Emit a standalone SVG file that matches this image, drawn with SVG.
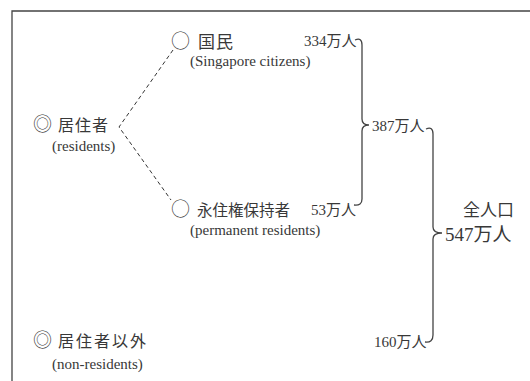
<svg xmlns="http://www.w3.org/2000/svg" width="530" height="381" viewBox="0 0 530 381">
<style>
.t{font-family:"Liberation Serif","Noto Sans CJK JP",serif;fill:#383838}
.s{font-family:"Noto Sans CJK JP",sans-serif;font-weight:300;font-size:19px;fill:#383838}
.jp{font-size:16px;letter-spacing:1px}
.en{font-size:15px}
.num{font-size:15px}
.big{font-size:19px}
.ln{fill:none;stroke:#444;stroke-width:1.3}
.dash{fill:none;stroke:#333;stroke-width:1;stroke-dasharray:4 3}
</style>
<rect width="530" height="381" fill="#fff"/>
<path class="ln" d="M12,381 V11 H530"/>
<g id="residents">
<text class="s" x="33" y="131">◎</text>
<text class="t jp" x="58" y="131">居住者</text>
<text class="t en" x="52" y="151">(residents)</text>
</g>
<g id="citizens">
<text class="s" x="171" y="48">○</text>
<text class="t jp" x="198" y="48" style="font-size:17px">国民</text>
<text class="t en" x="190" y="66">(Singapore citizens)</text>
<text class="t num" x="304" y="46">334万人</text>
</g>
<g id="permanent">
<text class="s" x="171" y="216">○</text>
<text class="t jp" x="197" y="216" style="font-size:15.5px;letter-spacing:0">永住権保持者</text>
<text class="t en" x="190" y="235">(permanent residents)</text>
<text class="t num" x="311" y="215">53万人</text>
</g>
<g id="nonresidents">
<text class="s" x="33" y="347">◎</text>
<text class="t jp" x="58" y="347" style="letter-spacing:2px">居住者以外</text>
<text class="t en" x="52" y="369">(non-residents)</text>
<text class="t num" x="374" y="347">160万人</text>
</g>
<g id="subtotal">
<text class="t num" x="372" y="131">387万人</text>
</g>
<g id="total">
<text class="t" x="463" y="216" style="font-size:17px">全人口</text>
<text class="t big" x="445" y="241">547万人</text>
</g>
<g id="connectors">
<path class="dash" d="M173,50 L119,127 L171,200"/>
<path class="ln" d="M355,40 Q362,37 362,45 V119 Q362,125 369,125 Q362,125 362,131 V199 Q362,206 354,205"/>
<path class="ln" d="M426,129 Q433,126 433,134 V227 Q433,233 442,233 Q433,233 433,239 V335 Q433,343 425,342"/>
</g>
</svg>
